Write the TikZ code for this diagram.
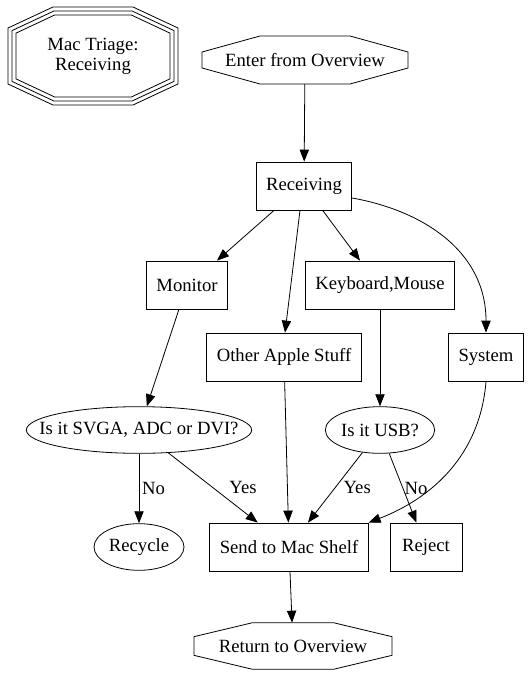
\documentclass[tikz,border=0pt]{standalone}
\usepackage{fontspec}
\setmainfont{Liberation Serif}
\usetikzlibrary{arrows.meta,shapes.geometric}

% octagon round a node: node, chamfer x, chamfer y, outset
\newcommand{\octframe}[4]{%
  \draw ([xshift=#2-#4, yshift=#4]#1.north west) -- ([xshift=-#2+#4, yshift=#4]#1.north east)
    -- ([xshift=#4, yshift=-#3+#4]#1.north east) -- ([xshift=#4, yshift=#3-#4]#1.south east)
    -- ([xshift=-#2+#4, yshift=-#4]#1.south east) -- ([xshift=#2-#4, yshift=-#4]#1.south west)
    -- ([xshift=-#4, yshift=#3-#4]#1.south west) -- ([xshift=-#4, yshift=-#3+#4]#1.north west) -- cycle;}

\begin{document}
\begin{tikzpicture}[x=0.75pt, y=-0.75pt, line width=0.6pt,
    every node/.style={font=\fontsize{14pt}{15pt}\selectfont},
    box/.style={draw, rectangle, minimum width=54pt, minimum height=36pt, inner xsep=7.5pt},
    query/.style={draw, ellipse, minimum height=35pt, inner xsep=-15pt},
    octo/.style={rectangle, inner sep=0pt, outer sep=0pt, align=center},
    lbl/.style={inner sep=1pt},
    arr/.style={-{Triangle[length=9pt, width=7pt]}}]
    \useasboundingbox (0,0) rectangle (531,679);

    \node[octo, minimum width=115.5pt, minimum height=61.5pt] (title) at (93,56) {Mac Triage:\\Receiving};
    \octframe{title}{29pt}{13.6pt}{0pt}
    \octframe{title}{31.4pt}{14.7pt}{3pt}
    \octframe{title}{33.75pt}{15.75pt}{6pt}

    \node[octo, minimum width=154.5pt, minimum height=36pt] (enter) at (305,60) {Enter from Overview};
    \octframe{enter}{43.5pt}{12pt}{0pt}
    \node[box] (recv) at (304,186) {Receiving};
    \node[box] (mon) at (187,285) {Monitor};
    \node[box] (kbd) at (380,285) {Keyboard,Mouse};
    \node[box] (other) at (284,357) {Other Apple Stuff};
    \node[box] (sys) at (486,357) {System};
    \node[query, minimum width=169pt] (svga) at (139,430) {Is it SVGA, ADC or DVI?};
    \node[query, minimum width=82pt] (usb) at (380,430) {Is it USB?};
    \node[query, minimum width=67.5pt] (recycle) at (139,547) {Recycle};
    \node[box] (send) at (289,547) {Send to Mac Shelf};
    \node[box] (reject) at (426,547) {Reject};
    \node[octo, minimum width=148.5pt, minimum height=35pt] (ret) at (293,646) {Return to Overview};
    \octframe{ret}{44pt}{10.5pt}{0pt}

    \draw[arr] (enter) -- (recv);
    \draw[arr] ([xshift=-22.5pt]recv.south) -- ([xshift=22.5pt]mon.north);
    \draw[arr] ([xshift=-3pt]recv.south) -- ([xshift=0.75pt]other.north);
    \draw[arr] ([xshift=14pt]recv.south) -- ([xshift=-15pt]kbd.north);
    \draw[arr] (recv.-14) .. controls +(68,12) and +(0,-83) .. (sys.north);
    \draw[arr] (mon) -- (svga);
    \draw[arr] (kbd) -- (usb);
    \draw[arr] (other) -- (send);
    \draw[arr] (sys.south) .. controls +(-6,75) and +(62,-24) .. (send.north east);
    \draw[arr] (svga) -- node[lbl, right=1pt] {No} (recycle);
    \draw[arr] (svga) -- node[lbl, right=11pt] {Yes} (send);
    \draw[arr] (usb) -- node[lbl, right=5pt] {Yes} (send);
    \draw[arr] (usb) -- node[lbl, right=0pt] {No} (reject);
    \draw[arr] (send) -- (ret);
\end{tikzpicture}
\end{document}
